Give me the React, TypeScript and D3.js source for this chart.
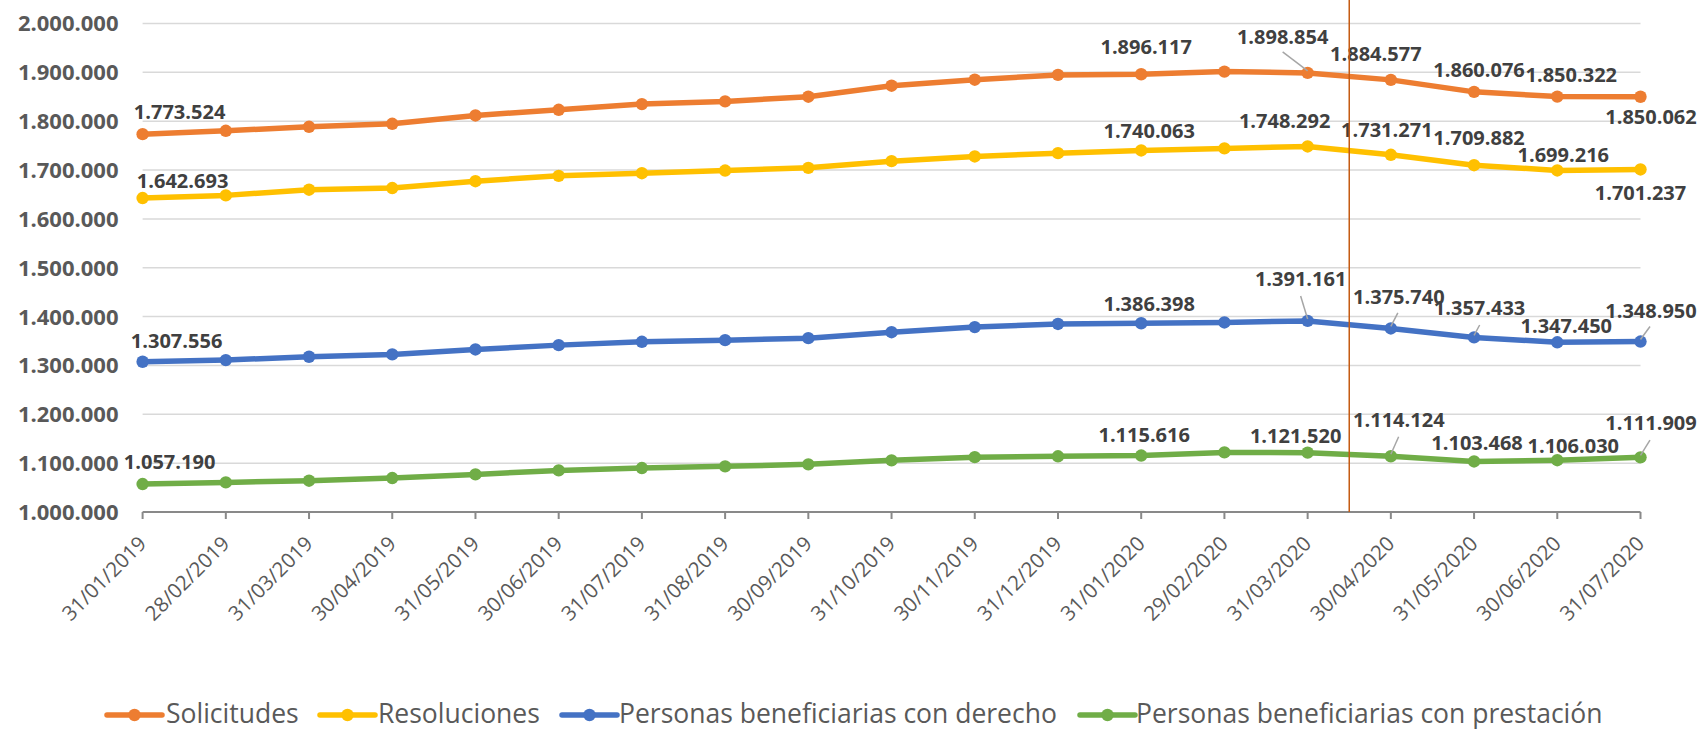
import React from "react";
import * as d3 from "d3";

const dates = [
  "31/01/2019", "28/02/2019", "31/03/2019", "30/04/2019", "31/05/2019", "30/06/2019",
  "31/07/2019", "31/08/2019", "30/09/2019", "31/10/2019", "30/11/2019", "31/12/2019",
  "31/01/2020", "29/02/2020", "31/03/2020", "30/04/2020", "31/05/2020", "30/06/2020", "31/07/2020",
];

const solicitudes = [1773524, 1780300, 1788500, 1794700, 1811800, 1823400, 1835000, 1840500, 1850100, 1872700, 1885000, 1894800, 1896117, 1901500, 1898854, 1884577, 1860076, 1850322, 1850062];
const resoluciones = [1642693, 1648150, 1659750, 1663160, 1677200, 1688100, 1693600, 1699000, 1704500, 1718200, 1727800, 1734600, 1740063, 1744300, 1748292, 1731271, 1709882, 1699216, 1701237];
const conDerecho = [1307556, 1311000, 1317800, 1322600, 1332700, 1341600, 1348400, 1351800, 1355900, 1368000, 1378500, 1385000, 1386398, 1388000, 1391161, 1375740, 1357433, 1347450, 1348950];
const conPrestacion = [1057190, 1060600, 1064000, 1069500, 1077000, 1085200, 1090000, 1093400, 1097500, 1105700, 1112300, 1114000, 1115616, 1122000, 1121520, 1114124, 1103468, 1106030, 1111909];

const seriesNames = ["Solicitudes", "Resoluciones", "Personas beneficiarias con derecho", "Personas beneficiarias con prestación"];
const seriesColors = ["#ED7D31", "#FFC000", "#4472C4", "#70AD47"];
const yTicks = [1000000, 1100000, 1200000, 1300000, 1400000, 1500000, 1600000, 1700000, 1800000, 1900000, 2000000];
const labeledIndices = [0, 12, 14, 15, 16, 17, 18];
// vertical marker between 31/03/2020 and 30/04/2020 (in category units)
const eventPosition = 14.5;

// label placement (text centre relative to the point), per series, per labeled index
const labelOffsets: Record<number, [number, number]>[] = [
  { 0: [37, -22], 12: [5, -27], 14: [-25, -36], 15: [-15, -26], 16: [5, -22], 17: [14, -22], 18: [10.5, 20] },
  { 0: [40, -17], 12: [8, -20], 14: [-23, -26], 15: [-4, -25], 16: [5, -27], 17: [6, -16], 18: [0, 23] },
  { 0: [34, -21], 12: [8, -19], 14: [-7, -42], 15: [8, -32], 16: [5.5, -29], 17: [9, -16.5], 18: [10.5, -31] },
  { 0: [27, -22], 12: [3, -21], 14: [-12, -17], 15: [8, -36], 16: [3, -19], 17: [16, -14], 18: [10.5, -34] },
];
const leaderOffsets: Record<number, [number, number]>[] = [
  { 14: [-25, -21] },
  {},
  { 14: [-7, -25], 15: [7, -15.5], 16: [5.6, -12.4], 18: [9.5, -15] },
  { 15: [7.8, -19.5], 18: [9.5, -17.3] },
];

const FONT = "'Open Sans', 'Noto Sans', sans-serif";
const fmt = (v: number) => d3.format(",")(v).replace(/,/g, ".");

export default function App() {
  const width = 1701;
  const height = 729;
  const allSeries = [solicitudes, resoluciones, conDerecho, conPrestacion];

  const x = d3.scalePoint<string>().domain(dates).range([142.6, 1640.5]);
  const y = d3.scaleLinear().domain([1000000, 2000000]).range([512, 23.5]);
  const step = x.step();
  const xAt = (pos: number) => (x(dates[0]) as number) + pos * step;

  const line = d3
    .line<number>()
    .x((_, i) => x(dates[i]) as number)
    .y((d) => y(d));

  const legendItems = [
    { lx: 107, tx: 166 },
    { lx: 320, tx: 378 },
    { lx: 562, tx: 619 },
    { lx: 1080, tx: 1136 },
  ];

  return (
    <svg
      width={width}
      height={height}
      style={{ position: "absolute", left: 0, top: 0, background: "#fff" }}
      fontFamily={FONT}
    >
      {/* gridlines */}
      {yTicks.slice(1).map((t) => (
        <line key={t} x1={x.range()[0]} x2={x.range()[1]} y1={y(t)} y2={y(t)} stroke="#D9D9D9" strokeWidth={1.5} />
      ))}
      {/* y labels */}
      {yTicks.map((t) => (
        <text key={"yl" + t} x={118.5} y={y(t) + 7.9} textAnchor="end" fontSize={22} fontWeight={700} fill="#595959">
          {fmt(t)}
        </text>
      ))}
      {/* x axis */}
      <line x1={x.range()[0]} x2={x.range()[1]} y1={y(1000000)} y2={y(1000000)} stroke="#898989" strokeWidth={2} />
      {dates.map((d) => (
        <line key={"t" + d} x1={x(d)} x2={x(d)} y1={y(1000000)} y2={y(1000000) + 7} stroke="#898989" strokeWidth={2} />
      ))}
      {dates.map((d) => {
        const ax = (x(d) as number) + 5;
        const ay = y(1000000) + 33;
        return (
          <text key={"xl" + d} x={ax} y={ay} transform={`rotate(-45 ${ax} ${ay})`} textAnchor="end" fontSize={20.5} fill="#595959">
            {d}
          </text>
        );
      })}
      {/* series */}
      {allSeries.map((s, si) => (
        <g key={"s" + si}>
          <path d={line(s) as string} fill="none" stroke={seriesColors[si]} strokeWidth={5.5} strokeLinejoin="round" />
          {s.map((v, i) => (
            <circle key={i} cx={x(dates[i])} cy={y(v)} r={6.2} fill={seriesColors[si]} />
          ))}
        </g>
      ))}
      {/* leader lines */}
      {allSeries.map((s, si) =>
        Object.entries(leaderOffsets[si]).map(([k, [dx, dy]]) => {
          const i = +k;
          const px = x(dates[i]) as number;
          const py = y(s[i]);
          return <line key={`ld${si}-${i}`} x1={px + dx} y1={py + dy} x2={px} y2={py - 2} stroke="#A6A6A6" strokeWidth={1.5} />;
        })
      )}
      {/* data labels */}
      {allSeries.map((s, si) =>
        labeledIndices.map((i) => {
          const [dx, dy] = labelOffsets[si][i];
          const px = x(dates[i]) as number;
          const py = y(s[i]);
          return (
            <text key={`dl${si}-${i}`} x={px + dx} y={py + dy + 7.1} textAnchor="middle" fontSize={20} fontWeight={700} fill="#404040">
              {fmt(s[i])}
            </text>
          );
        })
      )}
      {/* event line */}
      <line x1={xAt(eventPosition)} x2={xAt(eventPosition)} y1={0} y2={y(1000000)} stroke="#C55A11" strokeWidth={1.5} />
      {/* legend */}
      {seriesNames.map((name, i) => (
        <g key={"lg" + i}>
          <line x1={legendItems[i].lx} x2={legendItems[i].lx + 55} y1={715} y2={715} stroke={seriesColors[i]} strokeWidth={5.5} strokeLinecap="round" />
          <circle cx={legendItems[i].lx + 27.5} cy={715} r={6.2} fill={seriesColors[i]} />
          <text x={legendItems[i].tx} y={722.5} fontSize={26.5} fill="#595959">
            {name}
          </text>
        </g>
      ))}
    </svg>
  );
}
